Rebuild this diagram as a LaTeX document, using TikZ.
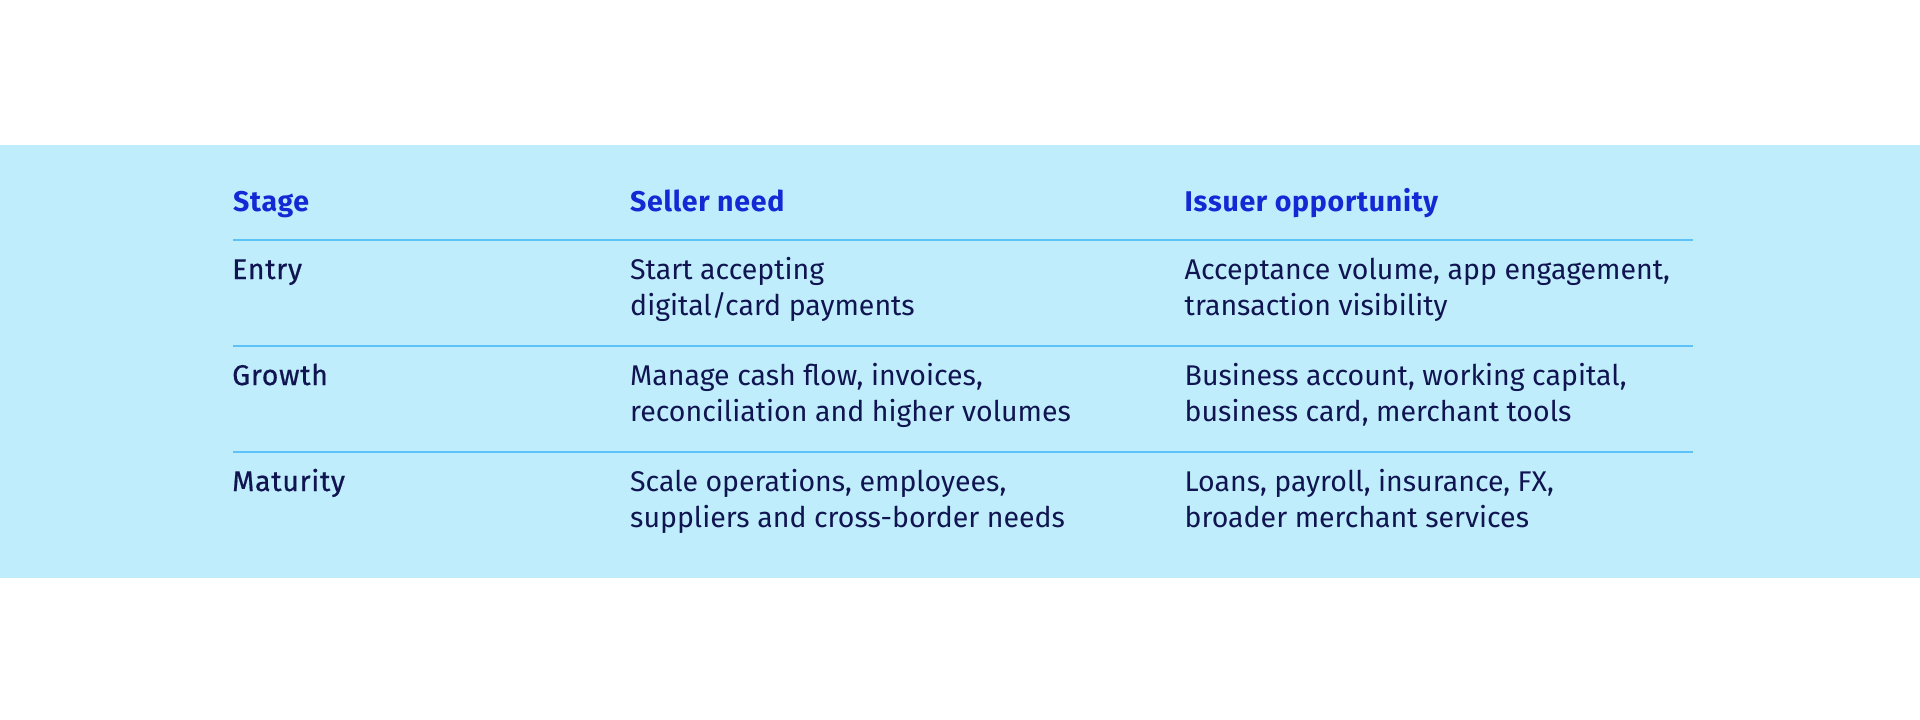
\documentclass[tikz,border=0pt]{standalone}
\usepackage{fontspec}
\setmainfont{Fira Sans}
\newfontfamily\medfont[FakeBold=0.6,LetterSpace=2.5]{Fira Sans}
\newfontfamily\headfont[LetterSpace=2.5]{Fira Sans}
\definecolor{band}{HTML}{BFEDFC}
\definecolor{headblue}{HTML}{1229D4}
\definecolor{navy}{HTML}{101450}
\definecolor{rule}{HTML}{5CC2F7}
\tikzset{
  cell/.style={anchor=base west, inner sep=0pt, align=left, text=navy,
    font=\fontsize{28.5}{36.5}\selectfont},
  headcell/.style={cell, text=headblue, font=\fontsize{28.5}{36.5}\selectfont\headfont\bfseries},
  stagecell/.style={cell, font=\fontsize{28.5}{36.5}\selectfont\medfont},
  rowrule/.style={draw=rule, line width=2pt}
}
\begin{document}
\begin{tikzpicture}[x=1pt,y=-1pt]
\useasboundingbox (0,0) rectangle (1920,720);
\fill[band] (0,144.6) rectangle (1920,577.7);
% header
\node[headcell] (h1) at (233,211.5) {Stage};
\node[headcell] (h2) at (630,211.5) {Seller need};
\node[headcell] (h3) at (1184.5,211.5) {Issuer opportunity};
% rules
\coordinate (r1a) at (233,240.3); \coordinate (r1b) at (1692.5,240.3);
\coordinate (r2a) at (233,346.4); \coordinate (r2b) at (1692.5,346.4);
\coordinate (r3a) at (233,451.8); \coordinate (r3b) at (1692.5,451.8);
\draw[rowrule] (r1a) -- (r1b);
\draw[rowrule] (r2a) -- (r2b);
\draw[rowrule] (r3a) -- (r3b);
% rows (multi-line nodes: base = last line)
\node[stagecell] (s1) at (232,279) {Entry};
\node[cell] (n1) at (630,315.5) {Start accepting\\digital/card payments};
\node[cell] (o1) at (1184.5,315.5) {Acceptance volume, app engagement,\\transaction visibility};
\node[stagecell] (s2) at (232,385) {Growth};
\node[cell] (n2) at (630,421.5) {Manage cash flow, invoices,\\reconciliation and higher volumes};
\node[cell] (o2) at (1184.5,421.5) {Business account, working capital,\\business card, merchant tools};
\node[stagecell] (s3) at (232,491) {Maturity};
\node[cell] (n3) at (630,527.5) {Scale operations, employees,\\suppliers and cross-border needs};
\node[cell] (o3) at (1184.5,527.5) {Loans, payroll, insurance, FX,\\broader merchant services};
\end{tikzpicture}
\end{document}
